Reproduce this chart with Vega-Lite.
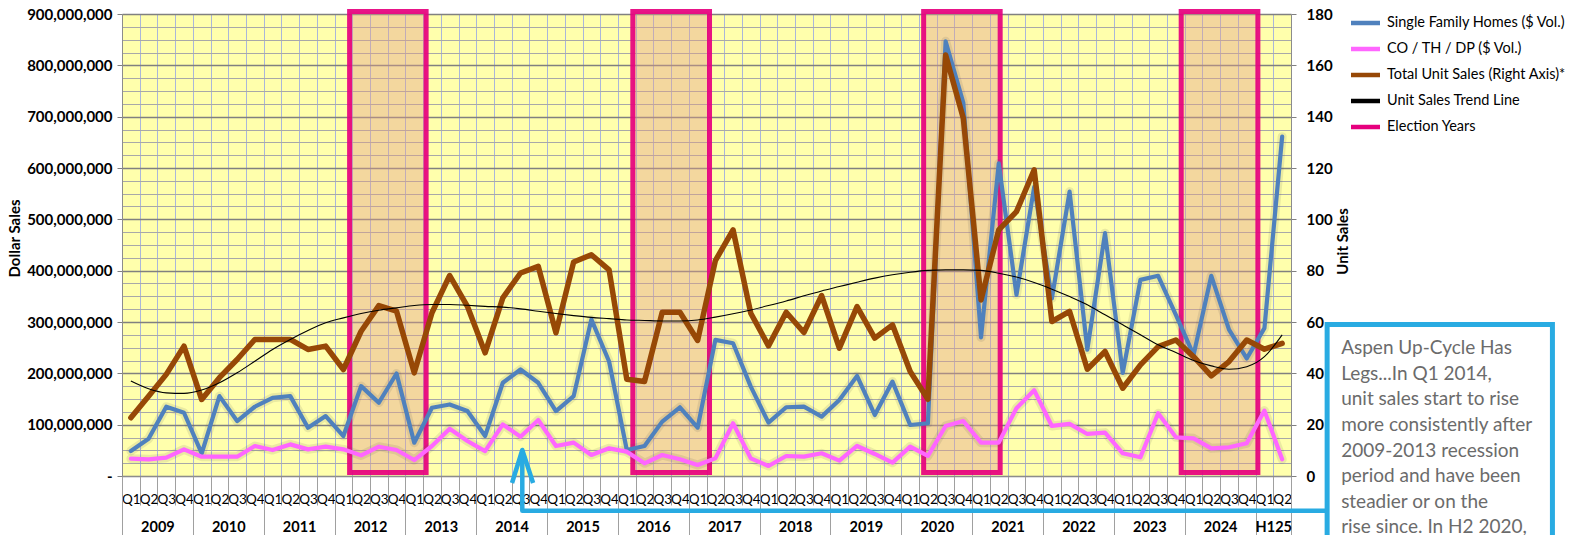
{
  "$schema": "https://vega.github.io/schema/vega-lite/v6.json",
  "width": 1169,
  "height": 462,
  "autosize": "none",
  "padding": {"left": 122, "top": 14, "right": 282, "bottom": 59},
  "background": "#FFFFFF",
  "config": {
    "view": {"fill": "#FFFFAC", "stroke": null},
    "font": "Lato",
    "axis": {"labelFont": "Lato", "titleFont": "Lato", "labelColor": "#000000", "titleColor": "#000000", "domainColor": "#8C8C8C", "tickColor": "#8C8C8C", "labelOverlap": false, "labelFlush": false, "labelBound": false}
  },
  "datasets": {
    "sales": [
      {"i": 0, "period": "2009 Q1", "sfh": 48600000, "co": 33700000, "units": 22.7, "trend": 37.0},
      {"i": 1, "period": "2009 Q2", "sfh": 72600000, "co": 32400000, "units": 31.1, "trend": 34.0},
      {"i": 2, "period": "2009 Q3", "sfh": 134900000, "co": 35700000, "units": 39.6, "trend": 32.4},
      {"i": 3, "period": "2009 Q4", "sfh": 123200000, "co": 51900000, "units": 50.6, "trend": 32.2},
      {"i": 4, "period": "2010 Q1", "sfh": 44100000, "co": 37600000, "units": 29.8, "trend": 33.5},
      {"i": 5, "period": "2010 Q2", "sfh": 155600000, "co": 37600000, "units": 38.3, "trend": 36.3},
      {"i": 6, "period": "2010 Q3", "sfh": 107000000, "co": 37600000, "units": 45.4, "trend": 40.2},
      {"i": 7, "period": "2010 Q4", "sfh": 134900000, "co": 58400000, "units": 53.2, "trend": 44.7},
      {"i": 8, "period": "2011 Q1", "sfh": 152400000, "co": 50600000, "units": 53.2, "trend": 49.3},
      {"i": 9, "period": "2011 Q2", "sfh": 155600000, "co": 61600000, "units": 53.2, "trend": 53.2},
      {"i": 10, "period": "2011 Q3", "sfh": 94000000, "co": 51900000, "units": 49.3, "trend": 56.7},
      {"i": 11, "period": "2011 Q4", "sfh": 116700000, "co": 57100000, "units": 50.6, "trend": 59.7},
      {"i": 12, "period": "2012 Q1", "sfh": 77800000, "co": 51900000, "units": 41.5, "trend": 61.6},
      {"i": 13, "period": "2012 Q2", "sfh": 175100000, "co": 40200000, "units": 56.4, "trend": 63.3},
      {"i": 14, "period": "2012 Q3", "sfh": 142700000, "co": 57100000, "units": 66.4, "trend": 64.6},
      {"i": 15, "period": "2012 Q4", "sfh": 199700000, "co": 50600000, "units": 64.2, "trend": 65.5},
      {"i": 16, "period": "2013 Q1", "sfh": 64900000, "co": 31100000, "units": 40.2, "trend": 66.4},
      {"i": 17, "period": "2013 Q2", "sfh": 132900000, "co": 58400000, "units": 63.6, "trend": 66.8},
      {"i": 18, "period": "2013 Q3", "sfh": 139400000, "co": 92100000, "units": 78.1, "trend": 66.8},
      {"i": 19, "period": "2013 Q4", "sfh": 126500000, "co": 68100000, "units": 66.1, "trend": 66.5},
      {"i": 20, "period": "2014 Q1", "sfh": 77800000, "co": 48600000, "units": 48.0, "trend": 66.1},
      {"i": 21, "period": "2014 Q2", "sfh": 181600000, "co": 100500000, "units": 69.4, "trend": 65.8},
      {"i": 22, "period": "2014 Q3", "sfh": 207500000, "co": 76500000, "units": 79.1, "trend": 65.1},
      {"i": 23, "period": "2014 Q4", "sfh": 181600000, "co": 109000000, "units": 81.7, "trend": 64.2},
      {"i": 24, "period": "2015 Q1", "sfh": 126500000, "co": 58400000, "units": 55.8, "trend": 63.3},
      {"i": 25, "period": "2015 Q2", "sfh": 155600000, "co": 65000000, "units": 83.4, "trend": 62.5},
      {"i": 26, "period": "2015 Q3", "sfh": 305000000, "co": 40900000, "units": 86.2, "trend": 61.8},
      {"i": 27, "period": "2015 Q4", "sfh": 223000000, "co": 53900000, "units": 80.3, "trend": 61.3},
      {"i": 28, "period": "2016 Q1", "sfh": 50700000, "co": 47400000, "units": 37.7, "trend": 60.8},
      {"i": 29, "period": "2016 Q2", "sfh": 58500000, "co": 24700000, "units": 36.8, "trend": 60.6},
      {"i": 30, "period": "2016 Q3", "sfh": 105900000, "co": 40900000, "units": 63.8, "trend": 60.4},
      {"i": 31, "period": "2016 Q4", "sfh": 133900000, "co": 32500000, "units": 63.8, "trend": 60.4},
      {"i": 32, "period": "2017 Q1", "sfh": 94200000, "co": 21400000, "units": 52.8, "trend": 60.8},
      {"i": 33, "period": "2017 Q2", "sfh": 265100000, "co": 34400000, "units": 83.9, "trend": 61.9},
      {"i": 34, "period": "2017 Q3", "sfh": 258600000, "co": 102700000, "units": 95.9, "trend": 63.2},
      {"i": 35, "period": "2017 Q4", "sfh": 174100000, "co": 34400000, "units": 63.4, "trend": 64.7},
      {"i": 36, "period": "2018 Q1", "sfh": 104000000, "co": 19500000, "units": 50.7, "trend": 66.4},
      {"i": 37, "period": "2018 Q2", "sfh": 133900000, "co": 39000000, "units": 63.8, "trend": 68.2},
      {"i": 38, "period": "2018 Q3", "sfh": 135200000, "co": 37700000, "units": 55.9, "trend": 70.2},
      {"i": 39, "period": "2018 Q4", "sfh": 115700000, "co": 44200000, "units": 70.3, "trend": 72.1},
      {"i": 40, "period": "2019 Q1", "sfh": 148100000, "co": 29900000, "units": 49.8, "trend": 73.8},
      {"i": 41, "period": "2019 Q2", "sfh": 194900000, "co": 58500000, "units": 66.0, "trend": 75.5},
      {"i": 42, "period": "2019 Q3", "sfh": 118900000, "co": 42900000, "units": 53.7, "trend": 77.1},
      {"i": 43, "period": "2019 Q4", "sfh": 183900000, "co": 26000000, "units": 58.9, "trend": 78.4},
      {"i": 44, "period": "2020 Q1", "sfh": 99400000, "co": 57200000, "units": 40.7, "trend": 79.4},
      {"i": 45, "period": "2020 Q2", "sfh": 102700000, "co": 39000000, "units": 29.9, "trend": 80.1},
      {"i": 46, "period": "2020 Q3", "sfh": 846700000, "co": 97500000, "units": 164.0, "trend": 80.3},
      {"i": 47, "period": "2020 Q4", "sfh": 727000000, "co": 107000000, "units": 139.4, "trend": 80.3},
      {"i": 48, "period": "2021 Q1", "sfh": 270000000, "co": 65000000, "units": 68.6, "trend": 80.1},
      {"i": 49, "period": "2021 Q2", "sfh": 609000000, "co": 65000000, "units": 95.9, "trend": 79.0},
      {"i": 50, "period": "2021 Q3", "sfh": 353000000, "co": 132000000, "units": 103.0, "trend": 77.5},
      {"i": 51, "period": "2021 Q4", "sfh": 563000000, "co": 167000000, "units": 119.3, "trend": 75.4},
      {"i": 52, "period": "2022 Q1", "sfh": 346000000, "co": 97500000, "units": 60.2, "trend": 72.8},
      {"i": 53, "period": "2022 Q2", "sfh": 554000000, "co": 101400000, "units": 64.1, "trend": 69.9},
      {"i": 54, "period": "2022 Q3", "sfh": 246000000, "co": 81900000, "units": 41.6, "trend": 66.7},
      {"i": 55, "period": "2022 Q4", "sfh": 473000000, "co": 84500000, "units": 48.5, "trend": 62.8},
      {"i": 56, "period": "2023 Q1", "sfh": 201000000, "co": 44200000, "units": 34.2, "trend": 58.9},
      {"i": 57, "period": "2023 Q2", "sfh": 382000000, "co": 36400000, "units": 43.3, "trend": 55.0},
      {"i": 58, "period": "2023 Q3", "sfh": 390000000, "co": 122200000, "units": 50.4, "trend": 51.1},
      {"i": 59, "period": "2023 Q4", "sfh": 314000000, "co": 75400000, "units": 53.0, "trend": 48.1},
      {"i": 60, "period": "2024 Q1", "sfh": 236000000, "co": 73400000, "units": 46.5, "trend": 45.0},
      {"i": 61, "period": "2024 Q2", "sfh": 390000000, "co": 53900000, "units": 39.0, "trend": 42.9},
      {"i": 62, "period": "2024 Q3", "sfh": 285000000, "co": 55900000, "units": 44.6, "trend": 41.6},
      {"i": 63, "period": "2024 Q4", "sfh": 229000000, "co": 63700000, "units": 53.0, "trend": 42.6},
      {"i": 64, "period": "2025 Q1", "sfh": 288000000, "co": 127400000, "units": 49.4, "trend": 46.5},
      {"i": 65, "period": "2025 Q2", "sfh": 661000000, "co": 32500000, "units": 51.7, "trend": 55.0}
    ],
    "elections": [
      {"year": 2012, "start": 12.35, "end": 16.67, "top": 905000000, "bottom": 7000000},
      {"year": 2016, "start": 28.34, "end": 32.67, "top": 905000000, "bottom": 7000000},
      {"year": 2020, "start": 44.76, "end": 49.08, "top": 905000000, "bottom": 7000000},
      {"year": 2024, "start": 59.3, "end": 63.63, "top": 905000000, "bottom": 7000000}
    ],
    "arrow": [
      {"part": "shaft", "seq": 1, "x": 22.1, "y": 50700000},
      {"part": "shaft", "seq": 2, "x": 22.1, "y": -67600000},
      {"part": "shaft", "seq": 3, "x": 67.6, "y": -67600000},
      {"part": "head", "seq": 1, "x": 21.52, "y": -13600000},
      {"part": "head", "seq": 2, "x": 22.1, "y": 50700000},
      {"part": "head", "seq": 3, "x": 22.71, "y": -13600000}
    ],
    "note": [
      {"start": 67.54, "end": 80.26, "top": 295300000, "bottom": -180000000, "x": 68.33, "y": 237200000,
       "text": "Aspen Up-Cycle Has\nLegs...In Q1 2014,\nunit sales start to rise\nmore consistently after\n2009-2013 recession\nperiod and have been\nsteadier or on the\nrise since. In H2 2020,"}
    ]
  },
  "resolve": {"scale": {"y": "independent"}, "axis": {"x": "independent", "y": "independent"}},
  "layer": [
    {
      "data": {"name": "sales"},
      "mark": {"type": "point", "opacity": 0},
      "encoding": {
        "x": {"field": "i", "type": "quantitative", "scale": {"domain": [-0.5, 65.5], "nice": false, "zero": false},
          "axis": {"orient": "bottom", "values": [-0.5,0.5,1.5,2.5,3.5,4.5,5.5,6.5,7.5,8.5,9.5,10.5,11.5,12.5,13.5,14.5,15.5,16.5,17.5,18.5,19.5,20.5,21.5,22.5,23.5,24.5,25.5,26.5,27.5,28.5,29.5,30.5,31.5,32.5,33.5,34.5,35.5,36.5,37.5,38.5,39.5,40.5,41.5,42.5,43.5,44.5,45.5,46.5,47.5,48.5,49.5,50.5,51.5,52.5,53.5,54.5,55.5,56.5,57.5,58.5,59.5,60.5,61.5,62.5,63.5,64.5,65.5],
            "grid": true, "gridColor": "#AAB6DA", "gridWidth": 1, "labels": false, "ticks": true, "tickSize": 29, "tickColor": "#A0A0A0", "domain": true, "domainColor": "#8C8C8C", "title": null}},
        "y": {"field": "sfh", "type": "quantitative", "scale": {"domain": [0, 900000000], "nice": false, "zero": false},
          "axis": {"orient": "left", "values": [25000000,50000000,75000000,125000000,150000000,175000000,225000000,250000000,275000000,325000000,350000000,375000000,425000000,450000000,475000000,525000000,550000000,575000000,625000000,650000000,675000000,725000000,750000000,775000000,825000000,850000000,875000000],
            "grid": true, "gridColor": "#A8A8A8", "gridWidth": 1, "labels": false, "ticks": false, "domain": false, "title": null}}
      }
    },
    {
      "data": {"name": "elections"},
      "mark": {"type": "rect", "fill": "#E2A08A", "fillOpacity": 0.42, "stroke": "#E6007E", "strokeWidth": 5, "strokeOpacity": 0.92},
      "encoding": {
        "x": {"field": "start", "type": "quantitative", "scale": {"domain": [-0.5, 65.5], "nice": false, "zero": false}, "axis": null},
        "x2": {"field": "end"},
        "y": {"field": "top", "type": "quantitative", "scale": {"domain": [0, 900000000], "nice": false, "zero": false}, "axis": null},
        "y2": {"field": "bottom"}
      }
    },
    {
      "data": {"name": "sales"},
      "transform": [{"fold": ["sfh", "co"], "as": ["series", "value"]}],
      "mark": {"type": "line", "strokeWidth": 9, "strokeJoin": "round", "strokeCap": "round", "color": "#505050", "opacity": 0.12},
      "encoding": {
        "x": {"field": "i", "type": "quantitative", "scale": {"domain": [-0.5, 65.5], "nice": false, "zero": false}, "axis": null},
        "y": {"field": "value", "type": "quantitative", "scale": {"domain": [0, 900000000], "nice": false, "zero": false}, "axis": null},
        "detail": {"field": "series", "type": "nominal"}
      }
    },
    {
      "data": {"name": "sales"},
      "transform": [{"fold": ["sfh", "co"], "as": ["series", "value"]}],
      "mark": {"type": "line", "strokeWidth": 4.2, "strokeJoin": "round", "strokeCap": "round"},
      "encoding": {
        "x": {"field": "i", "type": "quantitative", "scale": {"domain": [-0.5, 65.5], "nice": false, "zero": false},
          "axis": {"orient": "bottom", "values": [0,1,2,3,4,5,6,7,8,9,10,11,12,13,14,15,16,17,18,19,20,21,22,23,24,25,26,27,28,29,30,31,32,33,34,35,36,37,38,39,40,41,42,43,44,45,46,47,48,49,50,51,52,53,54,55,56,57,58,59,60,61,62,63,64,65],
            "labelExpr": "'Q' + (datum.value % 4 + 1)", "ticks": false, "tickSize": 0, "domain": false, "grid": false, "labelPadding": 16, "labelFontSize": 13.5, "title": null}},
        "y": {"field": "value", "type": "quantitative", "scale": {"domain": [0, 900000000], "nice": false, "zero": false},
          "axis": {"orient": "left", "values": [0,100000000,200000000,300000000,400000000,500000000,600000000,700000000,800000000,900000000],
            "labelExpr": "datum.value === 0 ? '-' : format(datum.value, ',')",
            "grid": true, "gridColor": "#808080", "gridWidth": 1.3, "tickSize": 5, "tickColor": "#808080", "labelPadding": 5, "labelFontSize": 15, "labelFontWeight": "bold", "domain": true, "domainColor": "#8C8C8C",
            "title": "Dollar Sales", "titleFontSize": 15, "titleFontWeight": "bold", "titleAngle": 270, "titleX": -108, "titleY": 224, "titleAlign": "center", "titleBaseline": "middle"}},
        "color": {"field": "series", "type": "nominal",
          "scale": {"domain": ["sfh", "co", "units", "trend", "election"], "range": ["#4F81BD", "#FF66FF", "#974806", "#000000", "#E6007E"]},
          "legend": {"orient": "none", "legendX": 1226.5, "legendY": -8, "title": null, "padding": 0, "symbolType": "stroke", "symbolSize": 841, "symbolStrokeWidth": 4.5, "rowPadding": 0, "labelOffset": 4.5, "labelFont": "Lato", "labelFontSize": 14.5, "labelColor": "#000000", "labelLimit": 400,
            "labelExpr": "datum.value === 'sfh' ? 'Single Family Homes ($ Vol.)' : datum.value === 'co' ? 'CO / TH / DP ($ Vol.)' : datum.value === 'units' ? 'Total Unit Sales (Right Axis)*' : datum.value === 'trend' ? 'Unit Sales Trend Line' : 'Election Years'"}}
      }
    },
    {
      "data": {"name": "sales"},
      "transform": [{"fold": ["units"], "as": ["series", "value"]}],
      "mark": {"type": "line", "strokeWidth": 5.5, "strokeJoin": "round", "strokeCap": "round"},
      "encoding": {
        "x": {"field": "i", "type": "quantitative", "scale": {"domain": [-0.5, 65.5], "nice": false, "zero": false}, "axis": null},
        "y": {"field": "value", "type": "quantitative", "scale": {"domain": [0, 180], "nice": false, "zero": false},
          "axis": {"orient": "right", "values": [0,20,40,60,80,100,120,140,160,180], "grid": false, "tickSize": 5, "tickColor": "#808080", "labelPadding": 10, "labelFontSize": 15, "labelFontWeight": "bold", "domain": true, "domainColor": "#8C8C8C",
            "title": "Unit Sales", "titleFontSize": 15, "titleFontWeight": "bold", "titleAngle": 270, "titleX": 51, "titleY": 227, "titleAlign": "center", "titleBaseline": "middle"}},
        "color": {"field": "series", "type": "nominal"}
      }
    },
    {
      "data": {"name": "sales"},
      "transform": [{"fold": ["trend"], "as": ["series", "value"]}],
      "mark": {"type": "line", "strokeWidth": 1.1, "interpolate": "monotone"},
      "encoding": {
        "x": {"field": "i", "type": "quantitative", "scale": {"domain": [-0.5, 65.5], "nice": false, "zero": false}, "axis": null},
        "y": {"field": "value", "type": "quantitative", "scale": {"domain": [0, 180], "nice": false, "zero": false}, "axis": null},
        "color": {"field": "series", "type": "nominal"}
      }
    },
    {
      "data": {"name": "arrow"},
      "mark": {"type": "line", "color": "#29ABE2", "strokeWidth": 4.5, "strokeJoin": "round", "strokeCap": "butt"},
      "encoding": {
        "x": {"field": "x", "type": "quantitative", "scale": {"domain": [-0.5, 65.5], "nice": false, "zero": false},
          "axis": {"orient": "bottom", "values": [-0.5,3.5,7.5,11.5,15.5,19.5,23.5,27.5,31.5,35.5,39.5,43.5,47.5,51.5,55.5,59.5,63.5,65.5], "grid": false, "labels": false, "ticks": true, "tickSize": 59, "tickColor": "#A0A0A0", "domain": false, "title": null}},
        "y": {"field": "y", "type": "quantitative", "scale": {"domain": [0, 900000000], "nice": false, "zero": false}, "axis": null},
        "detail": {"field": "part", "type": "nominal"},
        "order": {"field": "seq", "type": "quantitative"}
      }
    },
    {
      "data": {"name": "note"},
      "mark": {"type": "rect", "fill": "#FFFFFF", "stroke": "#29ABE2", "strokeWidth": 5},
      "encoding": {
        "x": {"field": "start", "type": "quantitative", "scale": {"domain": [-0.5, 65.5], "nice": false, "zero": false}, "axis": null},
        "x2": {"field": "end"},
        "y": {"field": "top", "type": "quantitative", "scale": {"domain": [0, 900000000], "nice": false, "zero": false}, "axis": null},
        "y2": {"field": "bottom"}
      }
    },
    {
      "data": {"name": "note"},
      "mark": {"type": "text", "align": "left", "baseline": "alphabetic", "lineBreak": "\n", "lineHeight": 25.6, "fontSize": 19, "font": "Lato", "color": "#6B6B6B"},
      "encoding": {
        "x": {"field": "x", "type": "quantitative", "scale": {"domain": [-0.5, 65.5], "nice": false, "zero": false},
          "axis": {"orient": "bottom", "values": [1.5,5.5,9.5,13.5,17.5,21.5,25.5,29.5,33.5,37.5,41.5,45.5,49.5,53.5,57.5,61.5,64.5],
            "labelExpr": "datum.value > 64 ? 'H125' : '' + (2009 + floor(datum.value / 4))", "ticks": false, "tickSize": 0, "domain": false, "grid": false, "labelPadding": 44, "labelFontSize": 14.5, "labelFontWeight": "bold", "title": null}},
        "y": {"field": "y", "type": "quantitative", "scale": {"domain": [0, 900000000], "nice": false, "zero": false}, "axis": null},
        "text": {"field": "text"}
      }
    }
  ]
}
